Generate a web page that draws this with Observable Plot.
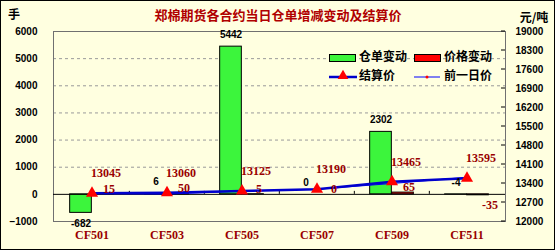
<!DOCTYPE html>
<html><head><meta charset="utf-8">
<script src="https://cdn.jsdelivr.net/npm/d3@7"></script>
<script src="https://cdn.jsdelivr.net/npm/@observablehq/plot@0.6"></script>
<style>
body{margin:0;background:#fff;}
#chart{width:555px;height:250px;}
</style>
</head><body><div id="chart"></div>
<script>
const categories = ["CF501","CF503","CF505","CF507","CF509","CF511"];
const receiptChange = [-682, 6, 5442, 0, 2302, -4];
const priceChange = [15, 50, 5, 0, 65, -35];
const settlePrice = [13045, 13060, 13125, 13190, 13465, 13595];
const prevPrice = [13030, 13010, 13120, 13190, 13400, 13630];
const leftTicks = [-1000, 0, 1000, 2000, 3000, 4000, 5000, 6000];
const gridTicks = [1000, 2000, 3000, 4000, 5000];
const rightTicks = [12000, 12700, 13400, 14100, 14800, 15500, 16200, 16900, 17600, 18300, 19000];
const title = "郑棉期货各合约当日仓单增减变动及结算价";
const leftUnit = "手";
const rightUnit = "元/吨";
const legendLabels = ["仓单变动", "价格变动", "结算价", "前一日价"];

// right axis 12000..19000 is laid over left axis -1000..6000
const BASE = 13000;
const rows = categories.map((c, i) => ({c, r: receiptChange[i], p: priceChange[i], s: settlePrice[i] - BASE, pv: prevPrice[i] - BASE, sv: settlePrice[i]}));

const W = 555, H = 250, ML = 53, MR = 50, MT = 31, MB = 29;
const band = (W - ML - MR) / categories.length;
const half = band / 2, bw = 22;
const darkRed = "#990000";
const numFont = "Liberation Sans";
const serif = "Liberation Serif";

const plot = Plot.plot({
  width: W, height: H,
  marginTop: MT, marginBottom: MB, marginLeft: ML, marginRight: MR,
  style: {background: "transparent", overflow: "visible"},
  x: {type: "band", domain: categories, padding: 0, axis: null},
  y: {domain: [-1000, 6000], axis: null},
  marks: [
    Plot.ruleY(gridTicks, {stroke: "#9a9a9a", strokeDasharray: "3,3"}),
    Plot.frame({stroke: "#707070"}),
    Plot.barY(rows, {x: "c", y: "r", fill: "#3cf53c", stroke: "#000", strokeWidth: 1, insetLeft: half - bw, insetRight: half}),
    Plot.barY(rows, {x: "c", y: "p", fill: "#ff0000", stroke: "#000", strokeWidth: 1, insetLeft: half, insetRight: half - bw}),
    Plot.ruleY([0], {stroke: "#000"}),
    Plot.ruleX(categories.slice(1), {x: d => d, y1: 0, y2: 110, dx: -half, stroke: "#000"}),
    Plot.line(rows, {x: "c", y: "pv", stroke: "#0000ff", strokeWidth: 1}),
    Plot.dot(rows, {x: "c", y: "pv", r: 1.5, fill: "#ff0000", stroke: "none"}),
    Plot.line(rows, {x: "c", y: "s", stroke: "#0000cc", strokeWidth: 2.5}),
    Plot.dot(rows, {x: "c", y: "s", symbol: "triangle", r: 4.5, fill: "#ff0000", stroke: "none"}),
    // receipt change labels
    Plot.text(rows, {filter: d => d.r > -100, x: "c", y: "r", text: d => String(d.r), dx: -bw / 2, dy: -12, fontFamily: numFont, fontWeight: "bold", fontSize: 10, fill: "#000"}),
    Plot.text(rows, {filter: d => d.r <= -100, x: "c", y: "r", text: d => String(d.r), dx: -bw / 2, dy: 11, fontFamily: numFont, fontWeight: "bold", fontSize: 10, fill: "#000"}),
    // settle labels
    Plot.text(rows, {x: "c", y: "s", text: d => String(d.sv), dx: 14, dy: -20, fontFamily: serif, fontWeight: "bold", fontSize: 12, fill: darkRed}),
    // price change labels
    Plot.text(rows, {filter: d => d.p >= 0, x: "c", y: "p", text: d => String(d.p), dx: 17, dy: -5, fontFamily: serif, fontWeight: "bold", fontSize: 12, fill: darkRed}),
    Plot.text(rows, {filter: d => d.p < 0, x: "c", y: "p", text: d => String(d.p), dx: 23, dy: 10, fontFamily: serif, fontWeight: "bold", fontSize: 12, fill: darkRed}),
    Plot.axisY(leftTicks, {anchor: "left", tickSize: 0, tickPadding: 16, tickFormat: d => String(d).replace("-", "\u2212"), fontFamily: numFont, fontWeight: "bold", fontSize: 10, fill: "#000", label: null}),
    Plot.axisY(rightTicks.map(v => v - BASE), {anchor: "right", tickSize: 0, tickPadding: 10, tickFormat: d => String(d + BASE), fontFamily: numFont, fontWeight: "bold", fontSize: 10, fill: "#000", label: null}),
    Plot.axisX({anchor: "bottom", tickSize: 0, tickPadding: 9, fontFamily: serif, fontWeight: "bold", fontSize: 12, fill: darkRed, label: null})
  ]
});

const svg = d3.select(plot);
// background + border behind everything
svg.insert("rect", ":first-child").attr("x", 0.5).attr("y", 0.5).attr("width", W - 1).attr("height", H - 1)
  .attr("fill", "#ffffe0").attr("stroke", "#000");

const ys = plot.scale("y");
const xR = W - MR;
rightTicks.forEach(v => {
  const y = ys.apply(v - BASE);
  svg.append("line").attr("x1", xR - 4).attr("x2", xR).attr("y1", y).attr("y2", y).attr("stroke", "#000");
});

const cjk = "'Noto Sans CJK SC', sans-serif";
svg.append("text").attr("x", 278).attr("y", 16).attr("text-anchor", "middle").attr("dominant-baseline", "middle")
  .attr("font-family", cjk).attr("font-weight", "bold").attr("font-size", 13).attr("fill", "#b00000").text(title);
svg.append("text").attr("x", 14).attr("y", 16).attr("text-anchor", "middle").attr("dominant-baseline", "middle")
  .attr("font-family", cjk).attr("font-weight", "bold").attr("font-size", 12).attr("fill", "#000").text(leftUnit);
svg.append("text").attr("x", 534).attr("y", 19).attr("text-anchor", "middle").attr("dominant-baseline", "middle")
  .attr("font-family", cjk).attr("font-weight", "bold").attr("font-size", 12).attr("fill", "#000").text(rightUnit);

// legend
const lg = svg.append("g").attr("font-family", cjk).attr("font-weight", "bold").attr("font-size", 12).attr("fill", "#000").attr("text-anchor", "start");
lg.append("rect").attr("x", 329.5).attr("y", 54.5).attr("width", 26).attr("height", 7).attr("fill", "#3cf53c").attr("stroke", "#000");
lg.append("text").attr("x", 359).attr("y", 58).attr("dominant-baseline", "middle").text(legendLabels[0]);
lg.append("rect").attr("x", 414.5).attr("y", 54.5).attr("width", 26).attr("height", 7).attr("fill", "#ff0000").attr("stroke", "#000");
lg.append("text").attr("x", 444).attr("y", 58).attr("dominant-baseline", "middle").text(legendLabels[1]);
lg.append("line").attr("x1", 329).attr("x2", 357).attr("y1", 77).attr("y2", 77).attr("stroke", "#0000cc").attr("stroke-width", 2.5);
lg.append("path").attr("d", d3.symbol(d3.symbolTriangle, 50)()).attr("transform", "translate(343,76)").attr("fill", "#ff0000");
lg.append("text").attr("x", 359).attr("y", 77).attr("dominant-baseline", "middle").text(legendLabels[2]);
lg.append("line").attr("x1", 414).attr("x2", 440).attr("y1", 77).attr("y2", 77).attr("stroke", "#0000ff").attr("stroke-width", 1);
lg.append("circle").attr("cx", 427).attr("cy", 77).attr("r", 1.5).attr("fill", "#ff0000");
lg.append("text").attr("x", 444).attr("y", 77).attr("dominant-baseline", "middle").text(legendLabels[3]);

document.getElementById("chart").appendChild(plot);
</script>
</body></html>
